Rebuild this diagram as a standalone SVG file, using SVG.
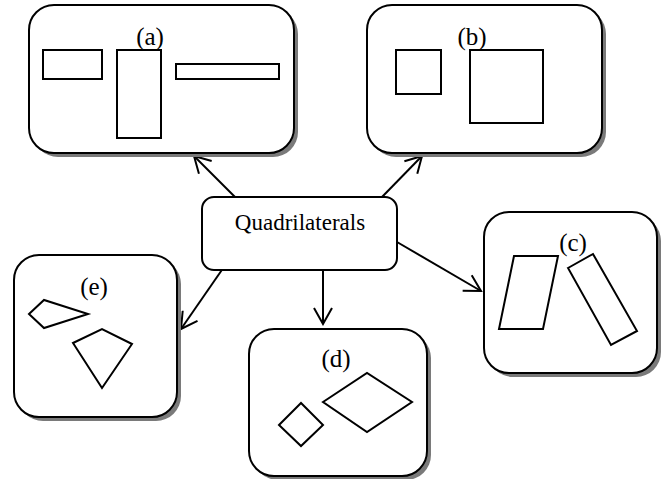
<svg xmlns="http://www.w3.org/2000/svg" width="664" height="479" viewBox="0 0 664 479">
<style>
.box{fill:#fff;stroke:#000;stroke-width:2}
.shadow{fill:#7a7a7a;stroke:none}
.shape{fill:none;stroke:#000;stroke-width:2}
.lbl{font-family:"Liberation Serif","Times New Roman",serif;font-size:25px;fill:#000;text-anchor:middle}
.title{font-family:"Liberation Serif","Times New Roman",serif;font-size:23px;fill:#000;text-anchor:middle}
.conn{stroke:#000;stroke-width:2;fill:none;marker-end:url(#arr)}
</style>
<defs>
<marker id="arr" viewBox="0 0 20 20" refX="18" refY="10" markerWidth="20" markerHeight="20" markerUnits="userSpaceOnUse" orient="auto">
<path d="M2,1 L18,10 L2,19" fill="none" stroke="#000" stroke-width="2"/>
</marker>
</defs>
<rect width="664" height="479" fill="#fff"/>
<g id="connectors">
<line class="conn" x1="235" y1="197" x2="194" y2="156"/>
<line class="conn" x1="382" y1="197" x2="422" y2="156"/>
<line class="conn" x1="397" y1="242" x2="481" y2="291"/>
<line class="conn" x1="323" y1="270" x2="323" y2="324"/>
<line class="conn" x1="226" y1="264" x2="181" y2="329"/>
</g>
<g id="node-a">
<rect class="shadow" x="33" y="9" width="265" height="148" rx="25"/>
<rect class="box" x="29" y="5" width="265" height="148" rx="25"/>
<text class="lbl" x="150" y="45">(a)</text>
<rect class="shape" x="43" y="50" width="59" height="29"/>
<rect class="shape" x="117" y="50" width="44" height="88"/>
<rect class="shape" x="176" y="64" width="103" height="15"/>
</g>
<g id="node-b">
<rect class="shadow" x="371" y="9" width="235" height="148" rx="25"/>
<rect class="box" x="367" y="5" width="235" height="148" rx="25"/>
<text class="lbl" x="472" y="45">(b)</text>
<rect class="shape" x="396" y="50" width="45" height="44"/>
<rect class="shape" x="470" y="50" width="73" height="73"/>
</g>
<g id="node-center">
<rect class="box" x="202" y="197" width="195" height="73" rx="12"/>
<text class="title" x="300" y="230">Quadrilaterals</text>
</g>
<g id="node-c">
<rect class="shadow" x="488" y="216" width="173" height="161" rx="25"/>
<rect class="box" x="484" y="212" width="173" height="161" rx="25"/>
<text class="lbl" x="573" y="251">(c)</text>
<polygon class="shape" points="514,256 558,256 543,329 499,329"/>
<polygon class="shape" points="568,268 593,254 637,331 611,345"/>
</g>
<g id="node-d">
<rect class="shadow" x="253" y="333" width="178" height="147" rx="25"/>
<rect class="box" x="249" y="329" width="178" height="147" rx="25"/>
<text class="lbl" x="336" y="367">(d)</text>
<polygon class="shape" points="279,425 301,403 323,425 301,446"/>
<polygon class="shape" points="323,402 367,373 412,402 367,432"/>
</g>
<g id="node-e">
<rect class="shadow" x="18" y="259" width="163" height="162" rx="25"/>
<rect class="box" x="14" y="255" width="163" height="162" rx="25"/>
<text class="lbl" x="94" y="295">(e)</text>
<polygon class="shape" points="29,314 44,300 88,314 44,328"/>
<polygon class="shape" points="73,343 102,329 132,344 102,388"/>
</g>
</svg>
